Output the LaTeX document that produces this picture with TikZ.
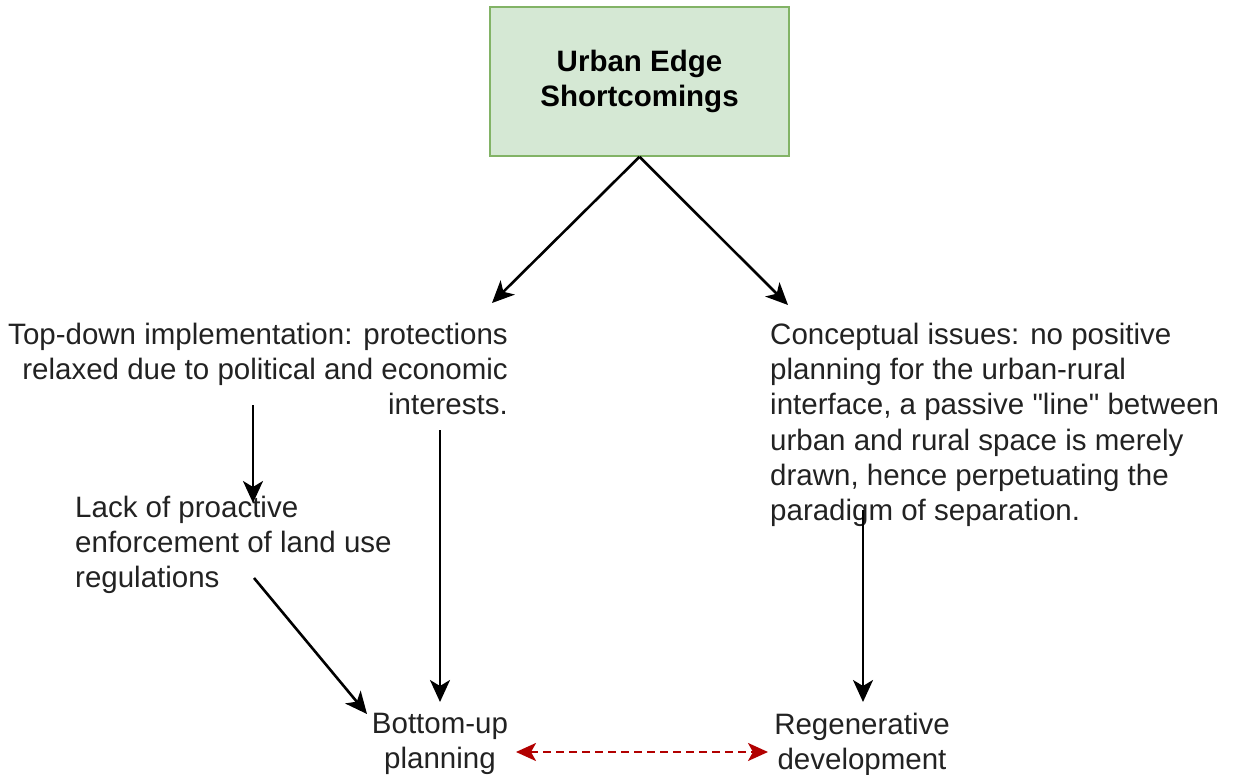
\documentclass[tikz,border=0pt]{standalone}
\usepackage{fontspec}
\setmainfont{Liberation Sans}
\usetikzlibrary{arrows.meta}
\definecolor{boxfill}{HTML}{D5E8D4}
\definecolor{boxline}{HTML}{82B366}
\definecolor{linkred}{HTML}{B20000}
\definecolor{ink}{HTML}{222222}
\tikzset{
  body/.style={inner sep=0pt, font=\fontsize{29.5}{35.2}\selectfont, text=ink},
  headbox/.style={draw=boxline, fill=boxfill, line width=1.6pt, minimum width=299pt,
    minimum height=149pt, inner sep=0pt, align=center,
    font=\fontsize{29.5}{35}\selectfont\bfseries},
  flow/.style={draw=black, line width=2.6pt, -{Stealth[length=22pt,width=20pt,inset=6pt]}},
  link/.style={draw=linkred, line width=2.4pt, dash pattern=on 8pt off 5pt,
    {Stealth[length=20pt,width=18pt,inset=5pt]}-{Stealth[length=20pt,width=18pt,inset=5pt]}}
}
\begin{document}
\begin{tikzpicture}[x=1pt,y=-1pt]
  \useasboundingbox (0,0) rectangle (1234,775);

  % heading box
  \node[headbox] (edge) at (639.5,81.5) {Urban Edge\\Shortcomings};

  % the two kinds of shortcomings
  \node[body, anchor=north east, align=right] (topdown) at (508,323)
    {Top-down implementation: protections\\relaxed due to political and economic\\interests.};
  \node[body, anchor=north west, align=left] (concept) at (770,323)
    {Conceptual issues: no positive\\planning for the urban-rural\\interface, a passive \textquotedbl line\textquotedbl{} between\\urban and rural space is merely\\drawn, hence perpetuating the\\paradigm of separation.};

  % consequences
  \node[body, anchor=north west, align=left] (enforce) at (75,496)
    {Lack of proactive\\enforcement of land use\\regulations};
  \node[body, anchor=north, align=center] (bottomup) at (440,713)
    {Bottom-up\\planning};
  \node[body, anchor=north, align=center] (regen) at (862,713)
    {Regenerative\\development};

  % connector end points
  \coordinate (tdL) at (492,303);
  \coordinate (tdR) at (788,305);
  \coordinate (a1) at (253,405);
  \coordinate (a1e) at (253,503);
  \coordinate (a2) at (440,430);
  \coordinate (a2e) at (440,702);
  \coordinate (a3) at (254,578);
  \coordinate (a3e) at (367,714);
  \coordinate (a4) at (863,510);
  \coordinate (a4e) at (863,702);
  \coordinate (l1) at (516,752);
  \coordinate (l2) at (768,752);

  \draw[flow] (edge.south) -- (tdL);
  \draw[flow] (edge.south) -- (tdR);
  \draw[flow] (a1) -- (a1e);
  \draw[flow] (a2) -- (a2e);
  \draw[flow] (a3) -- (a3e);
  \draw[flow] (a4) -- (a4e);
  \draw[link] (l1) -- (l2);
\end{tikzpicture}
\end{document}
